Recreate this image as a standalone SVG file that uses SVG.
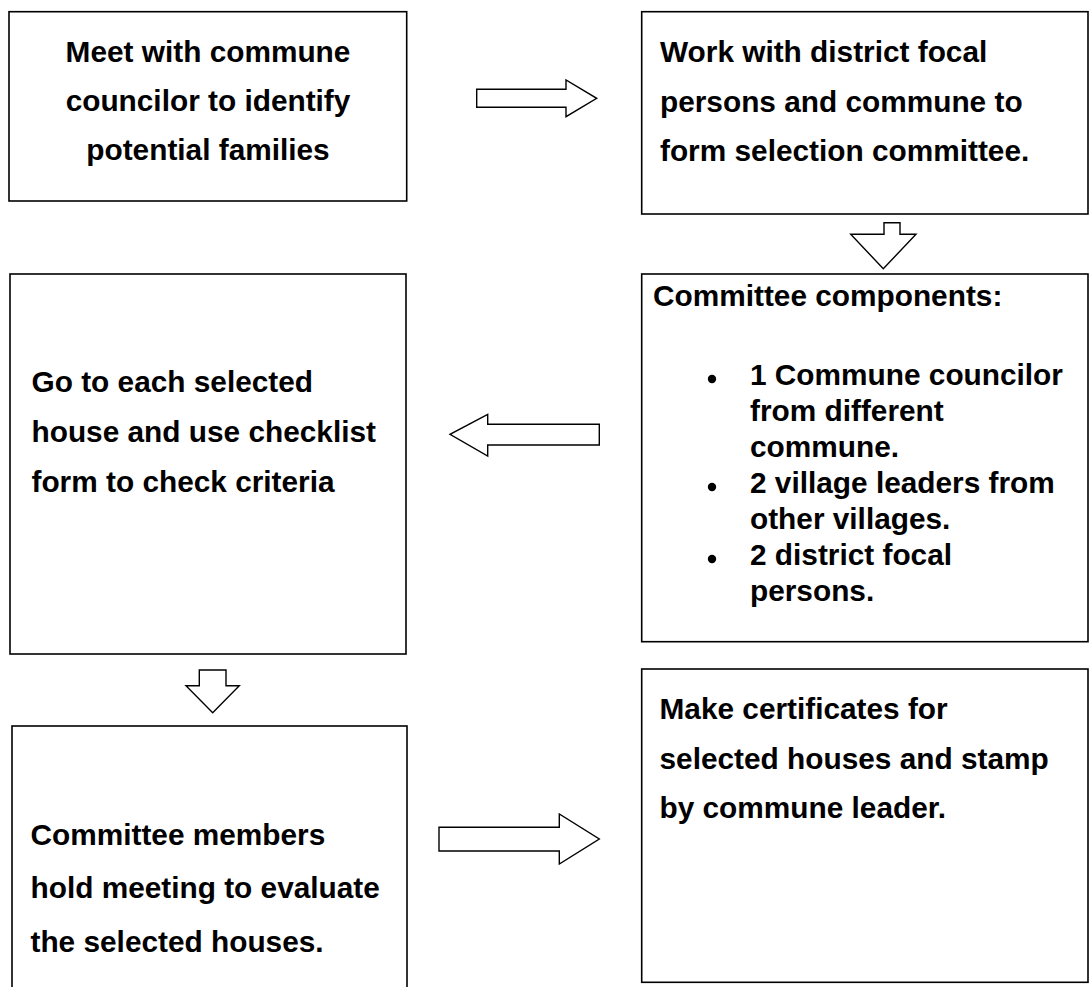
<svg xmlns="http://www.w3.org/2000/svg" width="1089" height="987" viewBox="0 0 1089 987">
<style>
.box{fill:#fff;stroke:#000;stroke-width:1.6}
.arr{fill:#fff;stroke:#000;stroke-width:1.4;stroke-linejoin:miter}
text{font-family:"Liberation Sans",Arial,sans-serif;font-weight:bold;font-size:29.8px;fill:#000}
.c{text-anchor:middle}
</style>
<rect width="1089" height="987" fill="#fff"/>
<g id="n1">
<rect class="box" x="9" y="11.7" width="397.7" height="189.3"/>
<text class="c" x="208" y="62">Meet with commune</text>
<text class="c" x="208" y="111">councilor to identify</text>
<text class="c" x="208" y="160">potential families</text>
</g>
<g id="n2">
<rect class="box" x="641.7" y="11.7" width="446.3" height="202.3"/>
<text x="660" y="62">Work with district focal</text>
<text x="660" y="111.5">persons and commune to</text>
<text x="660" y="161">form selection committee.</text>
</g>
<g id="n3">
<rect class="box" x="10" y="274" width="396" height="380"/>
<text x="31.5" y="392">Go to each selected</text>
<text x="31.5" y="442">house and use checklist</text>
<text x="31.5" y="492">form to check criteria</text>
</g>
<g id="n4">
<rect class="box" x="641.7" y="274" width="446.3" height="367.7"/>
<text x="653" y="306">Committee components:</text>
<circle cx="712" cy="379" r="4.2"/>
<text x="750" y="385">1 Commune councilor</text>
<text x="750" y="421">from different</text>
<text x="750" y="457">commune.</text>
<circle cx="712" cy="487" r="4.2"/>
<text x="750" y="493">2 village leaders from</text>
<text x="750" y="529">other villages.</text>
<circle cx="712" cy="559" r="4.2"/>
<text x="750" y="565">2 district focal</text>
<text x="750" y="601">persons.</text>
</g>
<g id="n5">
<rect class="box" x="12" y="726" width="395" height="270"/>
<text x="30.5" y="845">Committee members</text>
<text x="30.5" y="898">hold meeting to evaluate</text>
<text x="30.5" y="952">the selected houses.</text>
</g>
<g id="n6">
<rect class="box" x="641.7" y="669" width="446.3" height="313.3"/>
<text x="659.5" y="719">Make certificates for</text>
<text x="659.5" y="768.5">selected houses and stamp</text>
<text x="659.5" y="818">by commune leader.</text>
</g>
<g id="connectors">
<polygon class="arr" points="476.7,89.3 566,89.3 566,80 596.7,98.3 566,116.7 566,107.3 476.7,107.3"/>
<polygon class="arr" points="884,222.7 900,222.7 900,234.3 916,234.3 883.3,268.7 850.7,234.3 884,234.3"/>
<polygon class="arr" points="599.3,424.3 487.7,424.3 487.7,414.3 450,434.3 487.7,456 487.7,445 599.3,445"/>
<polygon class="arr" points="199.3,670 226,670 226,685.7 239.3,685.7 212.7,712.7 186,685.7 199.3,685.7"/>
<polygon class="arr" points="439,827.3 559.3,827.3 559.3,814 599.3,839 559.3,864 559.3,851 439,851"/>
</g>
</svg>
